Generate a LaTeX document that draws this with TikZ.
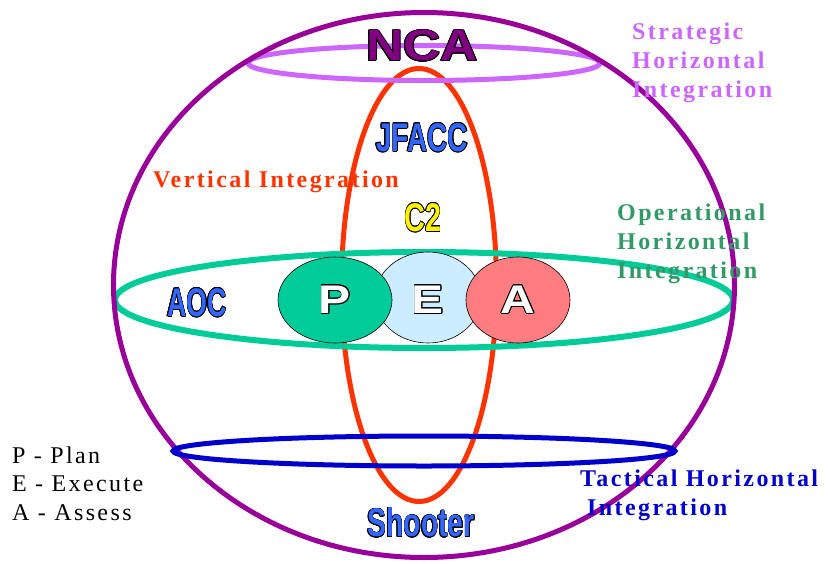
\documentclass[tikz,border=0pt]{standalone}
\usepackage{fontspec, graphicx, contour}
\setmainfont{Liberation Serif}
\setsansfont{Liberation Sans}
\newfontfamily\spacedserif[LetterSpace=10]{Liberation Serif}
\usetikzlibrary{shapes.geometric, positioning}

\contourlength{0.7pt}
\definecolor{globe}{HTML}{990099}
\definecolor{ncapurple}{HTML}{800080}
\definecolor{stratpurple}{HTML}{CC66FF}
\definecolor{vertred}{HTML}{FF3300}
\definecolor{opgreen}{HTML}{00CC99}
\definecolor{optext}{HTML}{339966}
\definecolor{tacblue}{HTML}{0000CC}
\definecolor{tagblue}{HTML}{3366FF}
\definecolor{execblue}{HTML}{CCECFF}
\definecolor{assesspink}{HTML}{FF7C80}

\newcommand{\tagtext}[2][0.7]{\scalebox{#1}[1]{\contour{black}{#2}}}

\begin{document}
\begin{tikzpicture}[x=1pt, y=-1pt, node distance=92pt, on grid,
    ring/.style={line width=5pt},
    phase/.style={ellipse, draw=black, line width=0.6pt, inner sep=0pt},
    caps/.style={font=\sffamily\bfseries\fontsize{40}{40}\selectfont, inner sep=0pt},
    level/.style={font=\spacedserif\bfseries\fontsize{24}{29}\selectfont, align=left, inner sep=0pt, anchor=north west}]
  \useasboundingbox (0,0) rectangle (828,563);

  % rings
  \draw[ring, vertred] (419,285) ellipse [x radius=77.5, y radius=216.5];
  \draw[ring, opgreen, line width=6pt] (424,300) ellipse [x radius=309, y radius=48];
  \draw[ring, stratpurple] (424,63) ellipse [x radius=176, y radius=17.5];
  \draw[ring, globe] (424,285) ellipse [x radius=310.5, y radius=272.5];
  \draw[ring, tacblue] (424,451) ellipse [x radius=251, y radius=15];

  % plan - execute - assess
  \node[phase, fill=execblue, minimum width=106, minimum height=91] (E) at (428,297.5)
    {\textcolor{white}{\sffamily\bfseries\fontsize{40}{40}\selectfont\raisebox{-2.5pt}[\height][\depth]{\tagtext[1.2]{E}}}};
  \node[phase, fill=opgreen, minimum width=114, minimum height=86] (P) [left=93pt of E, yshift=-2.5pt]
    {\textcolor{white}{\sffamily\bfseries\fontsize{40}{40}\selectfont\tagtext[1.2]{P}}};
  \node[phase, fill=assesspink, minimum width=104, minimum height=86] (A) [right=90pt of E, yshift=-2.5pt]
    {\textcolor{white}{\sffamily\bfseries\fontsize{40}{40}\selectfont\tagtext[1.2]{A}}};

  % levels of command
  \node[caps, text=ncapurple, font=\sffamily\bfseries\fontsize{44}{44}\selectfont] (nca) at (422,46) {\tagtext[1.17]{NCA}};
  \node[caps, text=tagblue] (jfacc) at (422,138) {\tagtext{JFACC}};
  \node[caps, text=yellow] (c2) at (423,218) {\tagtext[0.72]{C2}};
  \node[caps, text=tagblue] (aoc) at (197,303) {\tagtext[0.67]{AOC}};
  \node[caps, text=tagblue] (shooter) at (421,523) {\tagtext[0.71]{Shooter}};

  % integration labels
  \node[level, text=stratpurple] (strat) at (632,23) {Strategic\\Horizontal\\Integration};
  \node[level, text=vertred, anchor=base west] (vert) at (153,187) {Vertical Integration};
  \node[level, text=optext] (oper) at (617,204) {Operational\\Horizontal\\Integration};
  \node[level, text=tacblue] (tact) at (580,470) {Tactical Horizontal\\\hspace*{7pt}Integration};

  % legend
  \node[level, font=\spacedserif\fontsize{24}{28.5}\selectfont] (legend) at (12,446.5)
    {P - Plan\\E - Execute\\A - Assess};
\end{tikzpicture}
\end{document}
